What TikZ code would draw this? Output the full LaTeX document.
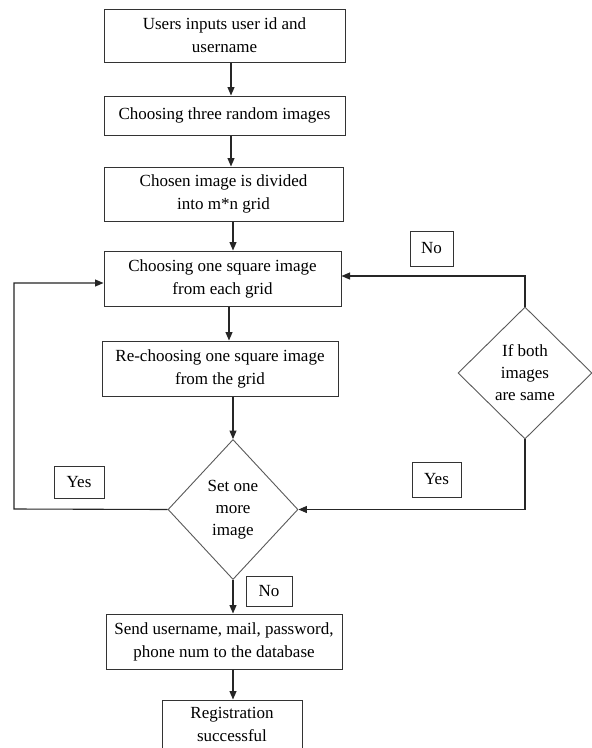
\documentclass[tikz,border=0pt]{standalone}
\usepackage{fontspec}
\setmainfont{Liberation Serif}
\usetikzlibrary{shapes.geometric,arrows.meta}
\begin{document}
\begin{tikzpicture}[x=1pt,y=-1pt,
  every node/.style={font=\fontsize{17}{23}\selectfont},
  procbox/.style={draw=black!80,line width=1pt,rectangle,align=center,inner sep=0pt},
  decbox/.style={draw=black!65,line width=0.9pt,diamond,align=center,inner sep=0pt,font=\fontsize{17}{22}\selectfont},
  lblbox/.style={draw=black!80,line width=1pt,rectangle,inner sep=0pt,align=center},
  arr/.style={draw=black!85,line width=1.1pt,-{Triangle[length=8.5pt,width=7pt]}}]
\useasboundingbox (0,0) rectangle (592,748);
\fill[white] (0,0) rectangle (592,748);

\node[procbox,minimum width=241pt,minimum height=53pt] (b1) at (224.5,35.5) {Users inputs user id and\\username};
\node[procbox,minimum width=241pt,minimum height=39pt] (b2) at (224.5,115.5) {Choosing three random images};
\node[procbox,minimum width=239pt,minimum height=54pt] (b3) at (223.5,194) {Chosen image is divided\\into m*n grid};
\node[procbox,minimum width=237pt,minimum height=55pt] (b4) at (222.5,278.5) {Choosing one square image\\from each grid};
\node[procbox,minimum width=236pt,minimum height=55pt] (b5) at (220,368.5) {Re-choosing one square image\\from the grid};
\node[decbox,minimum width=130pt,minimum height=140pt] (d1) at (233,509.5) {Set one\\more\\image};
\node[decbox,minimum width=134pt,minimum height=132pt] (d2) at (525,373) {If both\\images\\are same};
\node[procbox,minimum width=236pt,minimum height=55pt] (b6) at (224,641.5) {Send username, mail, password,\\phone num to the database};
\node[procbox,minimum width=140pt,minimum height=48pt] (b7) at (232,724) {Registration\\successful};

\node[lblbox,minimum width=43pt,minimum height=35pt] (no1) at (431.5,248.5) {No};
\node[lblbox,minimum width=50pt,minimum height=32pt] (yes1) at (79,482) {Yes};
\node[lblbox,minimum width=49pt,minimum height=35pt] (yes2) at (436.5,479.5) {Yes};
\node[lblbox,minimum width=46pt,minimum height=30pt] (no2) at (269,591) {No};

\coordinate (xa) at (231,0);
\coordinate (xb) at (233,0);
\coordinate (xc) at (229,0);
\coordinate (lx) at (14,509);

\draw[arr] (b1.south -| xa) -- (b2.north -| xa);
\draw[arr] (b2.south -| xa) -- (b3.north -| xa);
\draw[arr] (b3.south -| xb) -- (b4.north -| xb);
\draw[arr] (b4.south -| xc) -- (b5.north -| xc);
\draw[arr] (b5.south -| xb) -- (d1.north);
\draw[arr] (d1.south) -- (b6.north -| xb);
\draw[arr] (b6.south -| xb) -- (b7.north -| xb);

\draw[arr] (d2.north) |- ([yshift=2.5pt]b4.east);
\draw[arr] (d2.south) |- (d1.east);
\draw[arr] (d1.west) -- (lx) |- ([yshift=-4.5pt]b4.west);
\end{tikzpicture}
\end{document}
